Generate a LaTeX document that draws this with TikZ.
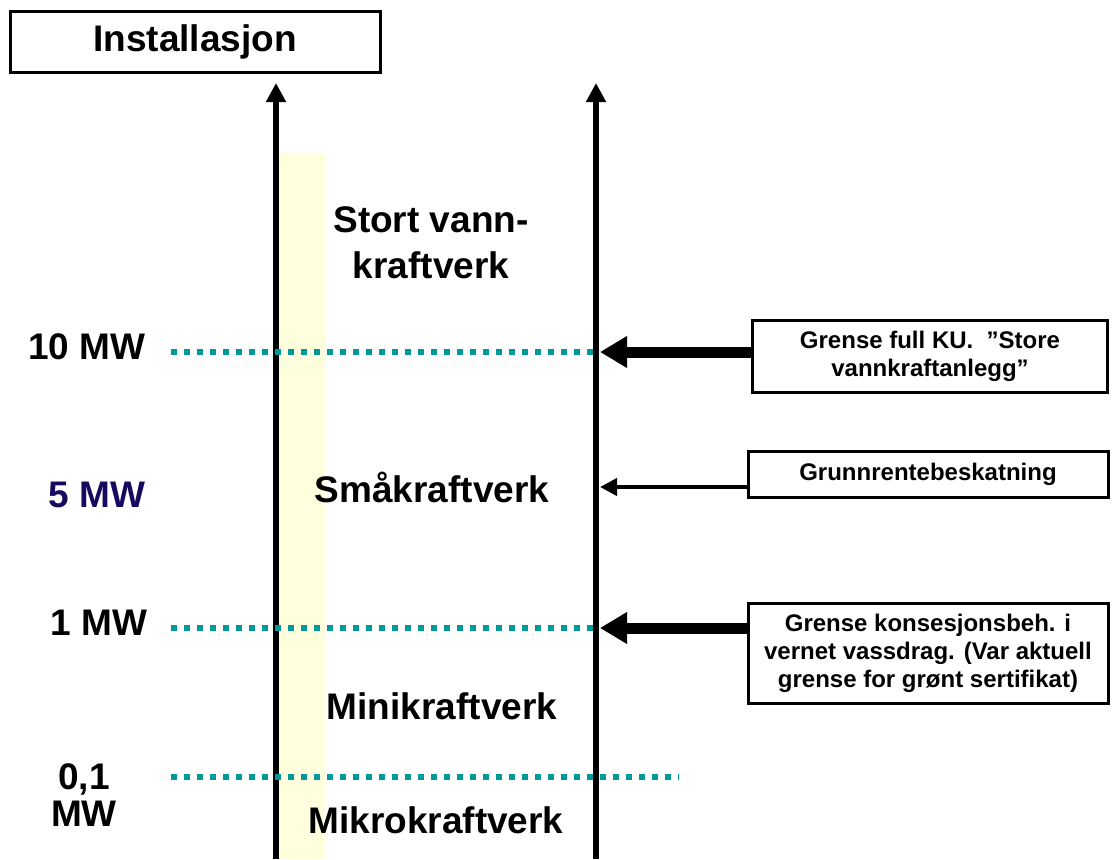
\documentclass[tikz,border=0pt]{standalone}
\usepackage{fontspec}
\setmainfont{Liberation Sans}
\usepackage{tikz}
\usepackage{xcolor}
\usetikzlibrary{arrows.meta}

\definecolor{dotteal}{RGB}{0,153,153}
\definecolor{bandyellow}{RGB}{255,255,221}
\definecolor{navytext}{RGB}{20,10,95}

\begin{document}
\begin{tikzpicture}[x=1pt,y=-1pt]
    \tikzstyle{every node}=[inner sep=0pt]
    \tikzstyle{bigtext}=[font=\fontsize{37}{46}\selectfont\bfseries, align=center]
    \tikzstyle{boxtext}=[draw, line width=3pt, font=\fontsize{24}{28}\selectfont\bfseries, align=center]
    \tikzstyle{axis}=[line width=6pt, -{Triangle[length=19pt,width=19pt]}]
    \tikzstyle{level}=[dotteal, line width=6pt, dash pattern=on 6pt off 7pt]
    \tikzstyle{bigarrow}=[line width=11pt, -{Triangle[length=27pt,width=30pt]}]
    \tikzstyle{thinarrow}=[line width=4pt, -{Triangle[length=17pt,width=17pt]}]

    \useasboundingbox (0,0) rectangle (1113,859);

    \fill[bandyellow] (279,153) rectangle (325,859);

    \coordinate (lbot) at (276,859);
    \coordinate (ltop) at (276,83);
    \coordinate (rbot) at (596,859);
    \coordinate (rtop) at (596,83);
    \draw[axis] (lbot) -- (ltop);
    \draw[axis] (rbot) -- (rtop);

    % Grenser
    \coordinate (d10) at (171,352);
    \coordinate (k10) at (600,352);
    \coordinate (d1) at (171,628);
    \coordinate (k1) at (600,628);
    \coordinate (d01) at (171,777);
    \coordinate (e01) at (679,777);
    \coordinate (k5) at (600,487);
    \draw[level] (d10) -- (k10);
    \draw[level] (d1) -- (k1);
    \draw[level] (d01) -- (e01);

    \node[boxtext, font=\fontsize{37}{44}\selectfont\bfseries, minimum width=370pt, minimum height=60pt] (inst) at (195,42) {Installasjon};

    \node[bigtext] (mw10) at (87,347) {10 MW};
    \node[bigtext, text=navytext] (mw5) at (97,495) {5 MW};
    \node[bigtext] (mw1) at (99,623) {1 MW};
    \node[bigtext, font=\fontsize{37}{37}\selectfont\bfseries] (mw01) at (84,795) {0,1\\MW};

    \node[bigtext] (stort) at (431,243) {Stort vann-\\kraftverk};
    \node[bigtext] (smaa) at (432,487) {Småkraftverk};
    \node[bigtext] (mini) at (442,706) {Minikraftverk};
    \node[bigtext] (mikro) at (436,820) {Mikrokraftverk};

    % Boksene til høyre
    \node[boxtext, minimum width=355pt, minimum height=72pt] (ku) at (930,356) {Grense full KU.\ \ ”Store\\vannkraftanlegg”};
    \node[boxtext, minimum width=360pt, minimum height=46pt] (grunn) at (928,474) {Grunnrentebeskatning};
    \node[boxtext, minimum width=360pt, minimum height=100pt] (kons) at (928,653) {Grense konsesjonsbeh. i\\vernet vassdrag. (Var aktuell\\grense for grønt sertifikat)};

    \draw[bigarrow] (ku.west |- k10) -- (k10);
    \draw[thinarrow] (grunn.west |- k5) -- (k5);
    \draw[bigarrow] (kons.west |- k1) -- (k1);
\end{tikzpicture}
\end{document}
